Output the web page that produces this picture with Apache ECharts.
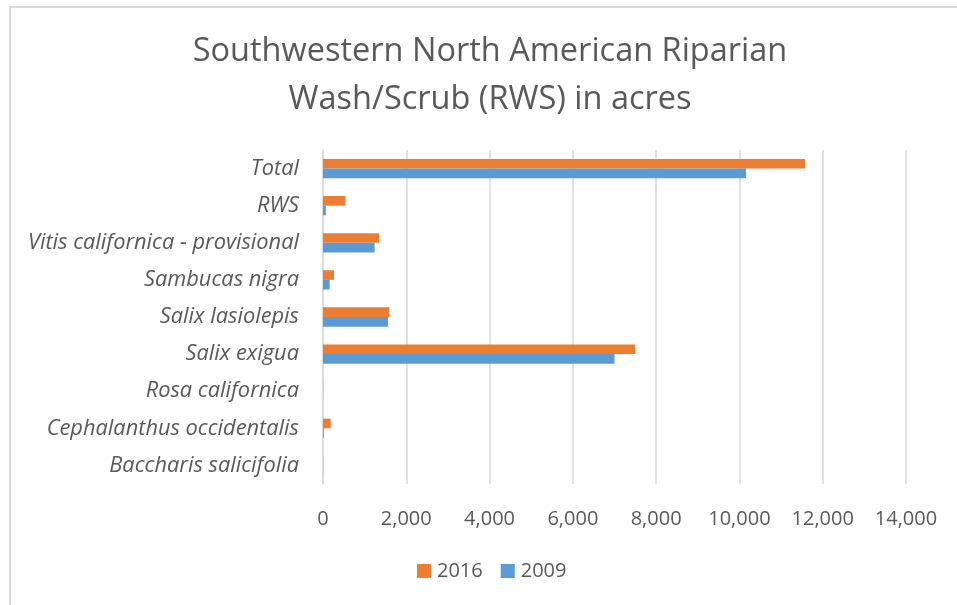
<!DOCTYPE html>
<html>
<head>
<meta charset="utf-8">
<script src="https://cdn.jsdelivr.net/npm/echarts@6/dist/echarts.min.js"></script>
<style>
html,body{margin:0;padding:0;background:#fff;}
#c{width:957px;height:605px;}
</style>
</head>
<body>
<div id="c"></div>
<script>
const categories = ['Baccharis salicifolia','Cephalanthus occidentalis','Rosa californica','Salix exigua','Salix lasiolepis','Sambucas nigra','Vitis californica - provisional','RWS','Total'];
const values2009 = [3, 20, 2, 7000, 1560, 160, 1240, 70, 10160];
const values2016 = [5, 185, 5, 7500, 1590, 265, 1350, 540, 11575];
const xTicks = {min: 0, max: 14000, interval: 2000};
const titleText = 'Southwestern North American Riparian\nWash/Scrub (RWS) in acres';

const FONT = '"Open Sans", sans-serif';
const chart = echarts.init(document.getElementById('c'), null, {renderer: 'canvas'});
chart.setOption({
  animation: false,
  backgroundColor: '#fff',
  graphic: [{
    type: 'rect', shape: {x: 10, y: 7, width: 1000, height: 700},
    style: {fill: 'none', stroke: '#d9d9d9', lineWidth: 2}, silent: true, z: -10
  }],
  title: {
    text: titleText, left: 485, top: 23, textAlign: 'center',
    textStyle: {fontFamily: FONT, fontSize: 32.5, fontWeight: 'normal', color: '#595959', lineHeight: 48}
  },
  legend: {
    data: ['2016', '2009'], left: 412, top: 556, itemWidth: 14, itemHeight: 14, itemGap: 18,
    icon: 'rect',
    textStyle: {fontFamily: FONT, fontSize: 20, color: '#595959', padding: [0, 0, 0, 1]}
  },
  grid: {left: 323, right: 51, top: 150, bottom: 121, containLabel: false},
  xAxis: {
    type: 'value', min: xTicks.min, max: xTicks.max, interval: xTicks.interval,
    axisLine: {show: false}, axisTick: {show: false},
    splitLine: {show: true, lineStyle: {color: '#d9d9d9', width: 1.5}},
    axisLabel: {fontFamily: FONT, fontSize: 20, color: '#595959', margin: 25,
      formatter: v => v.toLocaleString('en-US')}
  },
  yAxis: {
    type: 'category', data: categories,
    axisLine: {show: true, lineStyle: {color: '#d9d9d9', width: 1.5}},
    axisTick: {show: false},
    axisLabel: {fontFamily: FONT, fontSize: 21.8, fontStyle: 'italic', color: '#595959', margin: 24}
  },
  series: [
    {name: '2016', type: 'bar', data: values2016, itemStyle: {color: '#ED7D31'}, barGap: '0%', barCategoryGap: '48%'},
    {name: '2009', type: 'bar', data: values2009, itemStyle: {color: '#5B9BD5'}, barGap: '0%', barCategoryGap: '48%'}
  ]
});
</script>
</body>
</html>
